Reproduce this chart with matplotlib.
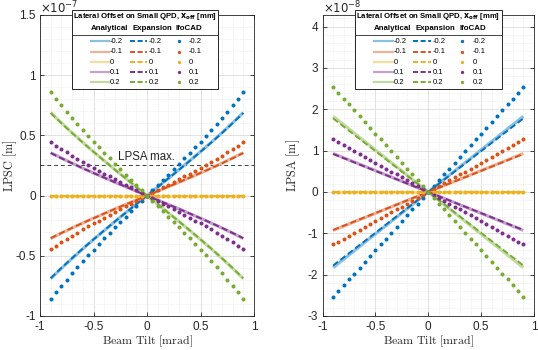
import matplotlib
matplotlib.use('Agg')
import matplotlib.pyplot as plt
from matplotlib.lines import Line2D
from matplotlib.patches import Rectangle
from matplotlib.ticker import MultipleLocator, FuncFormatter

plt.rcParams['font.family'] = ['Liberation Sans', 'DejaVu Sans']
plt.rcParams['axes.unicode_minus'] = False

# ---------------- data ----------------
offsets = ['-0.2', '-0.1', '0', '0.1', '0.2']
colors = ['#0072BD', '#D95319', '#EDB120', '#7E2F8E', '#77AC30']

tilt_ifo = [-0.90, -0.85, -0.80, -0.75, -0.70, -0.65, -0.60, -0.55, -0.50, -0.45,
            -0.40, -0.35, -0.30, -0.25, -0.20, -0.15, -0.10, -0.05, 0.00, 0.05,
            0.10, 0.15, 0.20, 0.25, 0.30, 0.35, 0.40, 0.45, 0.50, 0.55,
            0.60, 0.65, 0.70, 0.75, 0.80, 0.85, 0.90]
tilt_line = [-0.9, -0.8, -0.7, -0.6, -0.5, -0.4, -0.3, -0.2, -0.1, 0.0,
             0.1, 0.2, 0.3, 0.4, 0.5, 0.6, 0.7, 0.8, 0.9]

# LPSC (units of 1e-7 m)
ifo_L_m02 = [-0.860, -0.804, -0.750, -0.697, -0.645, -0.594, -0.545, -0.496, -0.448, -0.401,
             -0.355, -0.309, -0.264, -0.219, -0.175, -0.131, -0.087, -0.044, 0.000, 0.044,
             0.087, 0.131, 0.175, 0.219, 0.264, 0.309, 0.355, 0.401, 0.448, 0.496,
             0.545, 0.594, 0.645, 0.697, 0.750, 0.804, 0.860]
ifo_L_m01 = [-0.444, -0.415, -0.387, -0.360, -0.333, -0.307, -0.281, -0.256, -0.231, -0.207,
             -0.183, -0.159, -0.136, -0.113, -0.090, -0.068, -0.045, -0.023, 0.000, 0.023,
             0.045, 0.068, 0.090, 0.113, 0.136, 0.159, 0.183, 0.207, 0.231, 0.256,
             0.281, 0.307, 0.333, 0.360, 0.387, 0.415, 0.444]
ifo_L_0 = [0.0] * 37
ifo_L_p01 = [0.444, 0.415, 0.387, 0.360, 0.333, 0.307, 0.281, 0.256, 0.231, 0.207,
             0.183, 0.159, 0.136, 0.113, 0.090, 0.068, 0.045, 0.023, 0.000, -0.023,
             -0.045, -0.068, -0.090, -0.113, -0.136, -0.159, -0.183, -0.207, -0.231, -0.256,
             -0.281, -0.307, -0.333, -0.360, -0.387, -0.415, -0.444]
ifo_L_p02 = [0.860, 0.804, 0.750, 0.697, 0.645, 0.594, 0.545, 0.496, 0.448, 0.401,
             0.355, 0.309, 0.264, 0.219, 0.175, 0.131, 0.087, 0.044, 0.000, -0.044,
             -0.087, -0.131, -0.175, -0.219, -0.264, -0.309, -0.355, -0.401, -0.448, -0.496,
             -0.545, -0.594, -0.645, -0.697, -0.750, -0.804, -0.860]

ana_L_m02 = [-0.690, -0.604, -0.522, -0.442, -0.365, -0.290, -0.216, -0.143, -0.071, 0.0,
             0.071, 0.143, 0.216, 0.290, 0.365, 0.442, 0.522, 0.604, 0.690]
ana_L_m01 = [-0.356, -0.312, -0.269, -0.228, -0.188, -0.150, -0.111, -0.074, -0.037, 0.0,
             0.037, 0.074, 0.111, 0.150, 0.188, 0.228, 0.269, 0.312, 0.356]
ana_L_0 = [0.0] * 19
ana_L_p01 = [0.356, 0.312, 0.269, 0.228, 0.188, 0.150, 0.111, 0.074, 0.037, 0.0,
             -0.037, -0.074, -0.111, -0.150, -0.188, -0.228, -0.269, -0.312, -0.356]
ana_L_p02 = [0.690, 0.604, 0.522, 0.442, 0.365, 0.290, 0.216, 0.143, 0.071, 0.0,
             -0.071, -0.143, -0.216, -0.290, -0.365, -0.442, -0.522, -0.604, -0.690]

exp_L_m02 = [-0.686, -0.601, -0.519, -0.440, -0.364, -0.289, -0.215, -0.143, -0.071, 0.0,
             0.071, 0.143, 0.215, 0.289, 0.364, 0.440, 0.519, 0.601, 0.686]
exp_L_m01 = [-0.354, -0.310, -0.268, -0.227, -0.188, -0.149, -0.111, -0.074, -0.037, 0.0,
             0.037, 0.074, 0.111, 0.149, 0.188, 0.227, 0.268, 0.310, 0.354]
exp_L_0 = [0.0] * 19
exp_L_p01 = [0.354, 0.310, 0.268, 0.227, 0.188, 0.149, 0.111, 0.074, 0.037, 0.0,
             -0.037, -0.074, -0.111, -0.149, -0.188, -0.227, -0.268, -0.310, -0.354]
exp_L_p02 = [0.686, 0.601, 0.519, 0.440, 0.364, 0.289, 0.215, 0.143, 0.071, 0.0,
             -0.071, -0.143, -0.215, -0.289, -0.364, -0.440, -0.519, -0.601, -0.686]

# LPSA (units of 1e-8 m)
ifo_R_m02 = [-2.540, -2.399, -2.258, -2.117, -1.976, -1.834, -1.693, -1.552, -1.411, -1.270,
             -1.129, -0.988, -0.847, -0.706, -0.564, -0.423, -0.282, -0.141, 0.000, 0.141,
             0.282, 0.423, 0.564, 0.706, 0.847, 0.988, 1.129, 1.270, 1.411, 1.552,
             1.693, 1.834, 1.976, 2.117, 2.258, 2.399, 2.540]
ifo_R_m01 = [-1.270, -1.199, -1.129, -1.058, -0.988, -0.917, -0.847, -0.776, -0.706, -0.635,
             -0.564, -0.494, -0.423, -0.353, -0.282, -0.212, -0.141, -0.071, 0.000, 0.071,
             0.141, 0.212, 0.282, 0.353, 0.423, 0.494, 0.564, 0.635, 0.706, 0.776,
             0.847, 0.917, 0.988, 1.058, 1.129, 1.199, 1.270]
ifo_R_0 = [0.0] * 37
ifo_R_p01 = [1.270, 1.199, 1.129, 1.058, 0.988, 0.917, 0.847, 0.776, 0.706, 0.635,
             0.564, 0.494, 0.423, 0.353, 0.282, 0.212, 0.141, 0.071, 0.000, -0.071,
             -0.141, -0.212, -0.282, -0.353, -0.423, -0.494, -0.564, -0.635, -0.706, -0.776,
             -0.847, -0.917, -0.988, -1.058, -1.129, -1.199, -1.270]
ifo_R_p02 = [2.540, 2.399, 2.258, 2.117, 1.976, 1.834, 1.693, 1.552, 1.411, 1.270,
             1.129, 0.988, 0.847, 0.706, 0.564, 0.423, 0.282, 0.141, 0.000, -0.141,
             -0.282, -0.423, -0.564, -0.706, -0.847, -0.988, -1.129, -1.270, -1.411, -1.552,
             -1.693, -1.834, -1.976, -2.117, -2.258, -2.399, -2.540]

ana_R_m02 = [-1.830, -1.627, -1.423, -1.220, -1.017, -0.813, -0.610, -0.407, -0.203, 0.0,
             0.203, 0.407, 0.610, 0.813, 1.017, 1.220, 1.423, 1.627, 1.830]
ana_R_m01 = [-0.930, -0.827, -0.723, -0.620, -0.517, -0.413, -0.310, -0.207, -0.103, 0.0,
             0.103, 0.207, 0.310, 0.413, 0.517, 0.620, 0.723, 0.827, 0.930]
ana_R_0 = [0.0] * 19
ana_R_p01 = [0.930, 0.827, 0.723, 0.620, 0.517, 0.413, 0.310, 0.207, 0.103, 0.0,
             -0.103, -0.207, -0.310, -0.413, -0.517, -0.620, -0.723, -0.827, -0.930]
ana_R_p02 = [1.830, 1.627, 1.423, 1.220, 1.017, 0.813, 0.610, 0.407, 0.203, 0.0,
             -0.203, -0.407, -0.610, -0.813, -1.017, -1.220, -1.423, -1.627, -1.830]

exp_R_m02 = [-1.780, -1.582, -1.384, -1.187, -0.989, -0.791, -0.593, -0.396, -0.198, 0.0,
             0.198, 0.396, 0.593, 0.791, 0.989, 1.187, 1.384, 1.582, 1.780]
exp_R_m01 = [-0.920, -0.818, -0.716, -0.613, -0.511, -0.409, -0.307, -0.204, -0.102, 0.0,
             0.102, 0.204, 0.307, 0.409, 0.511, 0.613, 0.716, 0.818, 0.920]
exp_R_0 = [0.0] * 19
exp_R_p01 = [0.920, 0.818, 0.716, 0.613, 0.511, 0.409, 0.307, 0.204, 0.102, 0.0,
             -0.102, -0.204, -0.307, -0.409, -0.511, -0.613, -0.716, -0.818, -0.920]
exp_R_p02 = [1.780, 1.582, 1.384, 1.187, 0.989, 0.791, 0.593, 0.396, 0.198, 0.0,
             -0.198, -0.396, -0.593, -0.791, -0.989, -1.187, -1.384, -1.582, -1.780]

lpsa_max = 0.25  # 1e-7 m

# ---------------- figure ----------------
W, H = 538, 350
fig = plt.figure(figsize=(W / 100, H / 100), dpi=100)


def fx(px):
    return px / W


def fy(py):
    return 1 - py / H


def lighten(c, f=0.45):
    c = matplotlib.colors.to_rgb(c)
    return tuple(1 - (1 - v) * f for v in c)


axL = fig.add_axes([fx(40), fy(316), 214 / W, 301 / H])
axR = fig.add_axes([fx(322.5), fy(316), 211.5 / W, 301 / H])

TXT = '#262626'
dash = (0, (3.2, 1.6))


def draw(ax, ana, exp, ifo):
    for i in range(5):
        ax.plot(tilt_line, ana[i], color=lighten(colors[i]), lw=2.3, zorder=3,
                solid_capstyle='butt')
    for i in range(5):
        ax.plot(tilt_line, exp[i], color=colors[i], lw=1.4, ls=dash, zorder=4)
    for i in range(5):
        ax.plot(tilt_ifo, ifo[i], ls='none', marker='o', ms=2.9, mec='none',
                color=colors[i], zorder=5)


draw(axL, [ana_L_m02, ana_L_m01, ana_L_0, ana_L_p01, ana_L_p02],
     [exp_L_m02, exp_L_m01, exp_L_0, exp_L_p01, exp_L_p02],
     [ifo_L_m02, ifo_L_m01, ifo_L_0, ifo_L_p01, ifo_L_p02])
draw(axR, [ana_R_m02, ana_R_m01, ana_R_0, ana_R_p01, ana_R_p02],
     [exp_R_m02, exp_R_m01, exp_R_0, exp_R_p01, exp_R_p02],
     [ifo_R_m02, ifo_R_m01, ifo_R_0, ifo_R_p01, ifo_R_p02])

axL.axhline(lpsa_max, color='#404040', lw=0.7, ls=(0, (4, 3)), zorder=2)
axL.text(0, 0.32, 'LPSA max.', ha='center', va='center', fontsize=8.3, color=TXT, zorder=6)

fmt = FuncFormatter(lambda v, p: f'{v:g}')
for ax, ylim, ymaj, ymin, ylab in [(axL, (-1, 1.5), 0.5, 0.1, 'LPSC'),
                                   (axR, (-3, 4.28), 1, 0.2, 'LPSA')]:
    ax.set_xlim(-1, 1)
    ax.set_ylim(*ylim)
    ax.xaxis.set_major_locator(MultipleLocator(0.5))
    ax.xaxis.set_minor_locator(MultipleLocator(0.1))
    ax.yaxis.set_major_locator(MultipleLocator(ymaj))
    ax.yaxis.set_minor_locator(MultipleLocator(ymin))
    ax.xaxis.set_major_formatter(fmt)
    ax.yaxis.set_major_formatter(fmt)
    ax.grid(True, which='major', color='#dcdcdc', lw=0.6, zorder=0)
    ax.grid(True, which='minor', color='#e4e4e4', lw=0.5, ls=(0, (1, 1.5)), zorder=0)
    ax.set_axisbelow(True)
    ax.tick_params(which='major', direction='in', top=True, right=True, length=3,
                   width=0.6, color=TXT, labelcolor=TXT, labelsize=8.5)
    ax.tick_params(axis='x', which='major', pad=3.8)
    ax.tick_params(axis='y', which='major', pad=3)
    ax.tick_params(which='minor', length=0)
    for s in ax.spines.values():
        s.set_color(TXT)
        s.set_linewidth(0.6)
    ax.set_xlabel(r'$\mathrm{Beam\ Tilt\ [mrad]}$', fontsize=8.6, color=TXT,
                  math_fontfamily='cm', va='center')
    ax.xaxis.set_label_coords(0.5, -24.8 / 301)
    ax.set_ylabel(r'$\mathrm{' + ylab + r'\ [m]}$', fontsize=8.8, color=TXT,
                  math_fontfamily='cm', va='center')
    ax.yaxis.set_label_coords(-30 / 214, 0.5)

fig.text(fx(40.5), fy(8), r'$\times10^{-7}$', fontsize=8.5, color=TXT, ha='left',
         va='center', math_fontfamily='dejavusans')
fig.text(fx(323), fy(8), r'$\times10^{-8}$', fontsize=8.5, color=TXT, ha='left',
         va='center', math_fontfamily='dejavusans')


def legend(x0):
    y0, y1, w = 10, 89, 146.5
    fig.add_artist(Rectangle((fx(x0), fy(y1)), w / W, (y1 - y0) / H,
                             transform=fig.transFigure, facecolor='white',
                             edgecolor=TXT, lw=0.7, zorder=10))
    fig.text(fx(x0 + w / 2), fy(16.3), r'Lateral Offset on Small QPD, $\mathbf{x_{off}}$ [mm]',
             ha='center', va='center', fontsize=5.6, weight='bold', color='black',
             math_fontfamily='dejavusans', zorder=11)
    for t, xo in [('Analytical', 19), ('Expansion', 60.6), ('IfoCAD', 104.3)]:
        fig.text(fx(x0 + xo), fy(28.7), t, ha='left', va='center', fontsize=5.7,
                 weight='bold', color='black', zorder=11)
    fig.add_artist(Line2D([fx(x0), fx(x0 + w)], [fy(34.5)] * 2, transform=fig.transFigure,
                          color=TXT, lw=0.6, zorder=11))
    rows = [41.3, 51.7, 62.0, 72.2, 82.3]
    for i, yy in enumerate(rows):
        fig.add_artist(Line2D([fx(x0 + 19), fx(x0 + 37.6)], [fy(yy)] * 2,
                              transform=fig.transFigure, color=lighten(colors[i]),
                              lw=1.6, zorder=11))
        fig.add_artist(Line2D([fx(x0 + 58.3), fx(x0 + 75.6)], [fy(yy)] * 2,
                              transform=fig.transFigure, color=colors[i],
                              lw=1.4, ls=(0, (2.6, 1.3)), zorder=11))
        fig.add_artist(Line2D([fx(x0 + 107)], [fy(yy)], transform=fig.transFigure,
                              color=colors[i], marker='o', ms=2.4, mec='none',
                              ls='none', zorder=11))
        for xo in (38.3, 77.3, 117.3):
            fig.text(fx(x0 + xo), fy(yy), offsets[i], ha='left', va='center',
                     fontsize=5.5, color='black', zorder=11)


legend(71.7)
legend(355)

fig.savefig('out.png', dpi=100)
